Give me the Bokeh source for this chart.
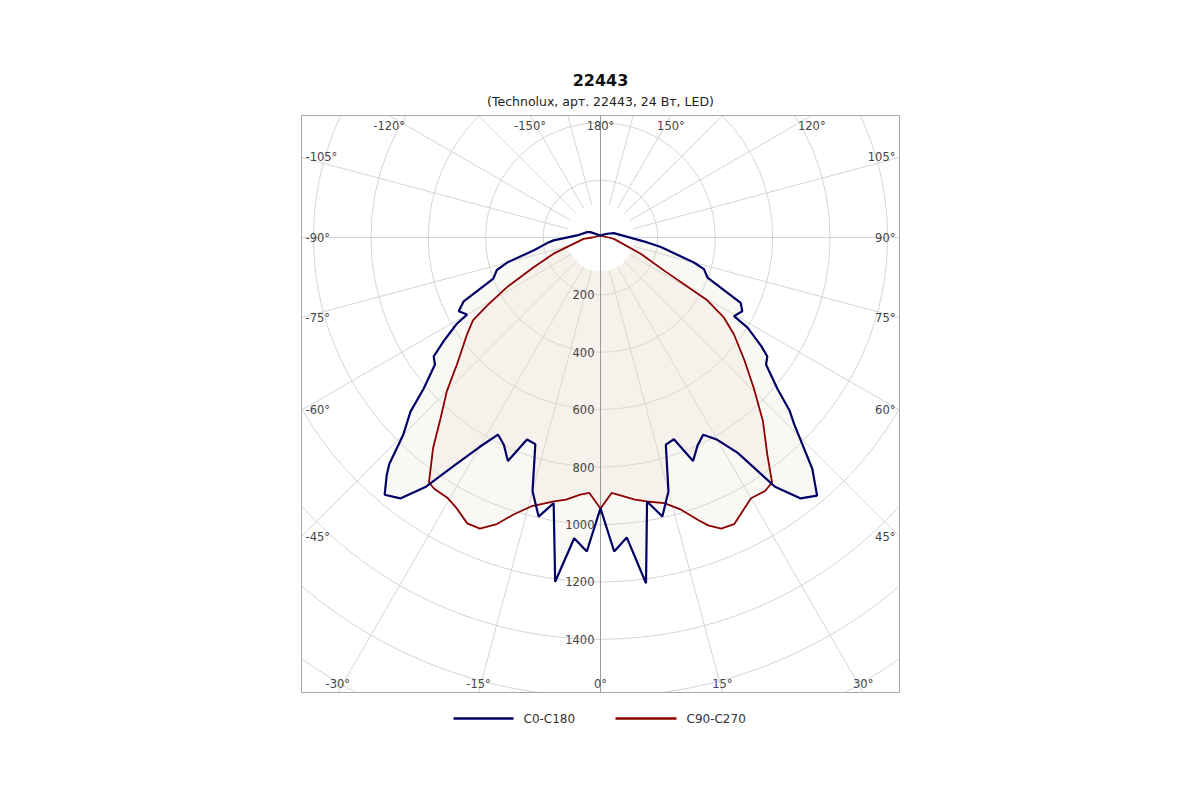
import numpy as np
from bokeh.plotting import figure
from bokeh.models import Range1d
from bokeh.core.properties import value
from bokeh.embed import file_html
from bokeh.resources import INLINE

# ---------------- data ----------------
title_text = "22443"
subtitle_text = "(Technolux, арт. 22443, 24 Вт, LED)"
series_names = ["C0-C180", "C90-C270"]

# C0-C180 : gamma angle (deg, 0 = down) and luminous intensity (cd)
c0_angles = [-180, -150, -135, -118, -112, -95, -86.5, -84, -79, -75, -72.5, -69,
             -65, -62.5, -60, -59, -56.5, -54.5, -52.5, -49.5, -47.5, -45, -43, -42,
             -40, -37.5, -35, -32.5, -30, -27.5, -25, -22.5, -20, -17.5, -15, -12.5,
             -10, -7.5, -5, -2.5, 0, 2.5, 5, 7.5, 10, 12.5, 15, 17.5, 20, 22.5,
             25, 27.5, 30, 32.5, 35, 37.5, 40, 42.5, 46, 47.5, 49.5, 52.5, 54.5, 56,
             58.5, 59.5, 62.5, 65, 69.5, 73, 75, 81, 84, 108, 119, 135, 150, 180]
c0_values = [7, 10, 15, 40, 50, 82, 164, 187, 238, 337, 379, 400,
             526, 557, 537, 585, 656, 714, 727, 810, 898, 972, 1079, 1113,
             1170, 1146, 1060, 936, 843, 774, 797, 843, 749, 755, 915, 996,
             940, 1210, 1052, 1095, 944, 1095, 1049, 1215, 934, 996, 915, 757, 748, 843,
             800, 775, 814, 890, 1060, 1146, 1174, 1092, 939, 894, 810, 727, 714, 675,
             601, 540, 557, 539, 398, 377, 337, 213, 164, 49, 27, 15, 10, 7]

# C90-C270
c90_angles = [-180, -150, -120, -90, -85.5, -71, -66, -62, -59, -57, -54, -48.5,
              -45, -41.5, -38.5, -35, -33.5, -30.5, -28, -25, -22.5, -20, -17.5, -14.5,
              -10, -7.5, -4.5, -2.5, 0, 2.5, 7.5, 10, 13.5, 16.5, 19, 20.5, 22.5, 25,
              30, 33, 35, 37.5, 41.5, 45.5, 49.5, 54, 57, 59.5, 60.5, 62.5, 68, 84,
              90, 120, 150, 180]
c90_values = [6, 7, 10, 28, 59, 173, 255, 370, 462, 530, 575, 668,
              757, 841, 937, 1042, 1050, 1052, 1068, 1099, 1098, 1064, 1013, 968,
              934, 921, 899, 891, 944, 891, 921, 934, 952, 989, 1040, 1071, 1098, 1102,
              1049, 1053, 1042, 955, 854, 749, 660, 575, 513, 433, 349, 250, 151, 47,
              28, 10, 7, 6]

radial_ticks = [200, 400, 600, 800, 1000, 1200, 1400]
angle_tick_labels = [0, 15, -15, 30, -30, 45, -45, 60, -60, 75, -75, 90, -90,
                     105, -105, 120, -120, 150, -150, 180]

# ---------------- layout (page pixels) ----------------
W, H, OFF = 1184, 784, 0
CX, CY = 600.0, 237.0          # pole position on the page
K = 57.4 / 200.0               # px per cd
BL, BR, BT, BB = 301.0, 899.0, 115.0, 692.0   # plot box

FONT = "DejaVu Sans"
BLUE = "#000066"
RED = "#8b0000"
GRID = "#d4d4d4"


def dxp(px):
    return (px - CX) / K


def dyp(py):
    return (CY - py) / K


def polar(angles, vals):
    a = np.radians(np.asarray(angles, dtype=float))
    v = np.asarray(vals, dtype=float)
    return v * np.sin(a), -v * np.cos(a)


p = figure(width=W, height=H,
           x_range=Range1d(dxp(OFF), dxp(OFF + W)),
           y_range=Range1d(dyp(OFF + H), dyp(OFF)),
           output_backend="svg", toolbar_location=None, min_border=0,
           x_axis_location=None, y_axis_location=None,
           background_fill_color="white", border_fill_color="white",
           outline_line_color=None)
p.grid.visible = False

# grid circles
for r in range(200, 2400, 200):
    p.circle(x=[0], y=[0], radius=r, fill_color=None, line_color=GRID, line_width=1)

# spokes
R_IN = 118.0
sp = [a for a in range(-165, 180, 15) if a != 0]
sa = np.radians(sp)
p.segment(x0=R_IN * np.sin(sa), y0=-R_IN * np.cos(sa),
          x1=3000 * np.sin(sa), y1=-3000 * np.cos(sa),
          line_color=GRID, line_width=1)

# fills
bx, by = polar(c0_angles, c0_values)
rx, ry = polar(c90_angles, c90_values)
p.patch(bx, by, fill_color="#e6dfcc", fill_alpha=0.22, line_color=None)
p.patch(rx, ry, fill_color="#e6dfcc", fill_alpha=0.22, line_color=None)

# white hub
p.circle(x=[0], y=[0], radius=R_IN, fill_color="white", line_color=None)

# vertical axis
p.segment(x0=[0], y0=[dyp(BT)], x1=[0], y1=[dyp(BB)], line_color="#9a9a9a", line_width=1)

# curves
p.line(rx, ry, line_color=RED, line_width=1.8)
p.line(bx, by, line_color=BLUE, line_width=2.2)

# mask outside box
p.quad(left=[dxp(-50), dxp(BR), dxp(BL), dxp(BL)],
       right=[dxp(BL), dxp(1300), dxp(BR), dxp(BR)],
       top=[dyp(-50), dyp(-50), dyp(-50), dyp(BB)],
       bottom=[dyp(900), dyp(900), dyp(BT), dyp(900)],
       fill_color="white", line_color=None)
p.quad(left=[dxp(BL)], right=[dxp(BR)], top=[dyp(BT)], bottom=[dyp(BB)],
       fill_color=None, line_color="#a8a8a8", line_width=1)

# radial tick labels
p.text(x=[dxp(594)] * len(radial_ticks), y=[-float(v) for v in radial_ticks],
       text=[str(v) for v in radial_ticks], text_font=value(FONT),
       text_font_size="11.5px", text_color="#444444",
       text_align="right", text_baseline="middle")

# angle labels
groups = {"left": ([], [], []), "right": ([], [], []), "top": ([], [], []), "bottom": ([], [], [])}
for a in angle_tick_labels:
    s, c = np.sin(np.radians(a)), np.cos(np.radians(a))
    cand = []
    if s > 1e-9:
        cand.append(((BR - CX) / s, "right"))
    if s < -1e-9:
        cand.append(((BL - CX) / s, "left"))
    if c > 1e-9:
        cand.append(((BB - CY) / c, "bottom"))
    if c < -1e-9:
        cand.append(((BT - CY) / c, "top"))
    t, side = min(cand)
    ex, ey = CX + t * s, CY + t * c
    if side == "bottom":
        px, py = ex, BB - 9
    elif side == "top":
        px, py = ex, BT + 10
    elif side == "left":
        px, py = BL + 4, ey
    else:
        px, py = BR - 4, ey
    g = groups[side]
    g[0].append(dxp(px))
    g[1].append(dyp(py))
    g[2].append(f"{a}°")

for side, (xs, ys, ts) in groups.items():
    align = {"left": "left", "right": "right"}.get(side, "center")
    p.text(x=xs, y=ys, text=ts, text_font=value(FONT), text_font_size="11.5px",
           text_color="#444444", text_align=align, text_baseline="middle")

# titles
p.text(x=[dxp(600)], y=[dyp(79)], text=[title_text], text_font=value(FONT),
       text_font_size="16px", text_font_style="bold", text_color="#111111",
       text_align="center", text_baseline="middle")
p.text(x=[dxp(600)], y=[dyp(100.5)], text=[subtitle_text], text_font=value(FONT),
       text_font_size="12.5px", text_color="#222222",
       text_align="center", text_baseline="middle")

# legend
p.segment(x0=[dxp(453)], y0=[dyp(718)], x1=[dxp(513)], y1=[dyp(718)],
          line_color=BLUE, line_width=2.5)
p.segment(x0=[dxp(615)], y0=[dyp(718)], x1=[dxp(676)], y1=[dyp(718)],
          line_color=RED, line_width=2.5)
p.text(x=[dxp(523), dxp(686)], y=[dyp(718), dyp(718)], text=series_names,
       text_font=value(FONT), text_font_size="12px", text_color="#333333",
       text_align="left", text_baseline="middle")

open("out.html", "w").write(file_html(p, INLINE))
